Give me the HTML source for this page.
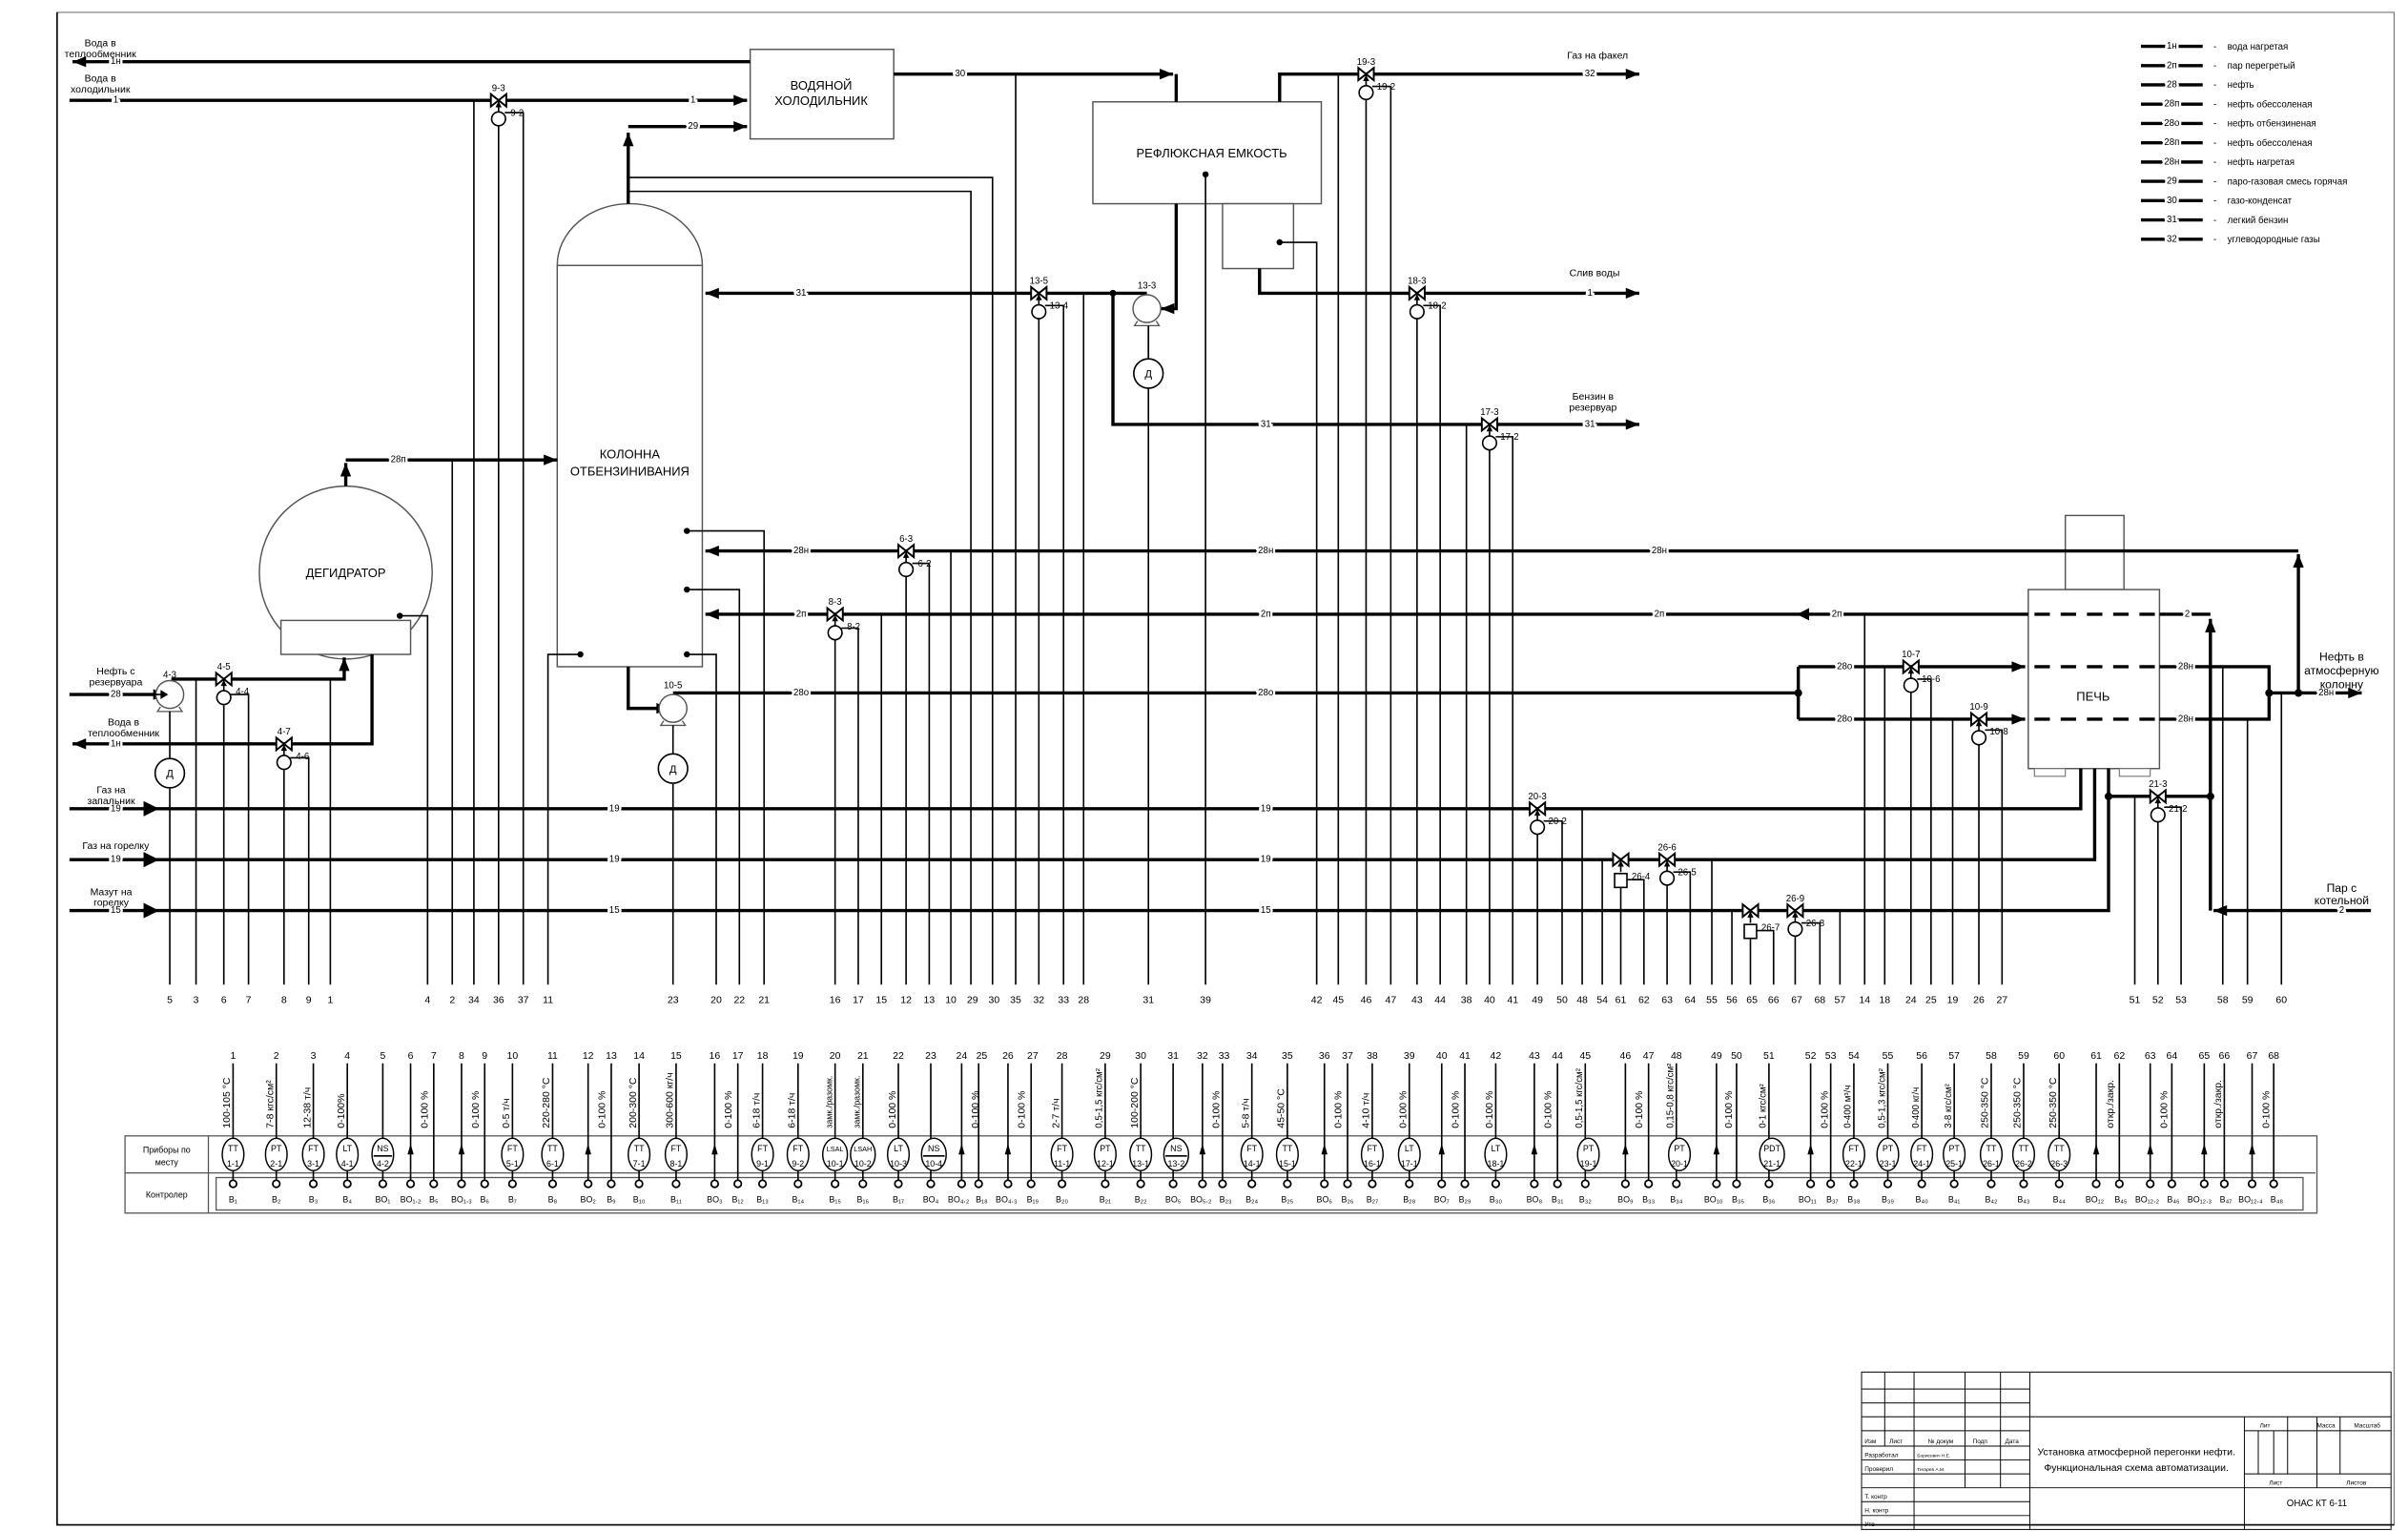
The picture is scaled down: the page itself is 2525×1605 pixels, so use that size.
<!DOCTYPE html>
<html><head><meta charset="utf-8"><style>
html,body{margin:0;padding:0;background:#fff}
svg{display:block}
text{font-family:"Liberation Sans",Arial,sans-serif;fill:#000}
.k{fill:none;stroke:#000;stroke-width:2.1}
.t{fill:none;stroke:#000;stroke-width:1}
.g{fill:none;stroke:#777;stroke-width:.7}
.l{font-size:6px;text-anchor:middle;paint-order:stroke;stroke:#fff;stroke-width:3px;dominant-baseline:central}
.s{font-size:6px;text-anchor:middle}
.m{font-size:6.5px;text-anchor:middle}
.n{font-size:6.5px;text-anchor:middle}
.i{font-size:5.5px;text-anchor:middle}
.r{font-size:6.5px}
.b{font-size:5.5px;text-anchor:middle}
.tb{font-size:4px;font-family:"Liberation Serif",serif}
</style></head><body>
<svg width="2525" height="1605" viewBox="0 0 1560 992" preserveAspectRatio="none" xmlns="http://www.w3.org/2000/svg">
<defs>
<marker id="a" viewBox="0 0 10 8" refX="10" refY="4" markerWidth="10" markerHeight="7" markerUnits="userSpaceOnUse" orient="auto"><path d="M0,0L10,4L0,8z"/></marker>
<g id="V"><path d="M-5,-4L5,4L5,-4L-5,4Z" fill="#fff" stroke="#000" stroke-width="1.2"/><path d="M0,1V8" stroke="#000" stroke-width="1"/><path d="M-2,4.5L0,0.5L2,4.5Z"/></g>
<g id="C"><circle r="4.5" fill="#fff" stroke="#000" stroke-width="1"/></g>
<g id="P"><path d="M-6,8L-8,11H8L6,8" fill="#fff" stroke="#555" stroke-width=".8"/><circle r="9" fill="#fff" stroke="#555" stroke-width=".9"/></g>
<g id="D"><circle r="9.5" fill="#fff" stroke="#000" stroke-width="1"/><text y="2.5" class="s" style="font-size:7px">Д</text></g>
</defs>

<!-- frame -->
<path class="g" d="M37,8H1551V988H37Z"/>
<path class="t" d="M37,8V988H1551"/>

<!-- equipment -->
<rect x="486" y="32" width="93" height="58" fill="#fff" stroke="#555" stroke-width=".9"/>
<text x="532" y="58" class="m" style="font-size:8px">ВОДЯНОЙ</text>
<text x="532" y="68" class="m" style="font-size:8px">ХОЛОДИЛЬНИК</text>
<rect x="708" y="66" width="148" height="66" fill="#fff" stroke="#555" stroke-width=".9"/>
<text x="785" y="102" class="m" style="font-size:8px">РЕФЛЮКСНАЯ ЕМКОСТЬ</text>
<rect x="792" y="132" width="46" height="42" fill="#fff" stroke="#555" stroke-width=".9"/>
<path d="M361,172A47,40 0 0 1 455,172" fill="#fff" stroke="#555" stroke-width=".9"/>
<rect x="361" y="172" width="94" height="260" fill="#fff" stroke="#555" stroke-width=".9"/>
<text x="408" y="297" class="m" style="font-size:8px">КОЛОННА</text>
<text x="408" y="308" class="m" style="font-size:8px">ОТБЕНЗИНИВАНИЯ</text>
<circle cx="224" cy="371" r="56" fill="#fff" stroke="#555" stroke-width=".9"/>
<rect x="182" y="402" width="84" height="22" fill="#fff" stroke="#555" stroke-width=".9"/>
<text x="224" y="374" class="m" style="font-size:8px">ДЕГИДРАТОР</text>
<rect x="1338" y="334" width="38" height="48" fill="#fff" stroke="#555" stroke-width=".9"/>
<rect x="1314" y="382" width="85" height="116" fill="#fff" stroke="#555" stroke-width=".9"/>
<rect x="1318" y="498" width="20" height="5" fill="#fff" stroke="#777" stroke-width=".7"/>
<rect x="1373" y="498" width="20" height="5" fill="#fff" stroke="#777" stroke-width=".7"/>
<text x="1356" y="454" class="m" style="font-size:8px">ПЕЧЬ</text>

<!-- thin process verticals -->
<path class="t" d="M110,511V638M127,440V638M145,457V638M149,450H161V638M184,499V638M188,491H200V638M214,440V638M259,399H277V638M293,298V638M307,65V638M323,81V638M327,73H339V638M376,424H355V638M436,508V638M445,424H464V638M445,382H479V638M445,344H495V638M541,415V638M545,407H556V638M571,398V638M587,373V638M591,365H602V638M616,357V638M407,124H629V638M407,115H643V638M658,48V638M673,206V638M677,198H689V638M702,190V638M744,208V638M781,113V638M829,157H853V638M867,48V638M885,64V638M889,56H901V638M918,206V638M922,198H933V638M950,275V638M965,291V638M969,283H980V638M996,540V638M1000,532H1012V638M1025,524V638M1038,557V638M1050,575V638M1054,570H1065V638M1080,573V638M1084,565H1095V638M1109,557V638M1122,590V638M1134,608V638M1138,603H1149V638M1163,606V638M1167,598H1179V638M1192,590V638M1208,398V638M1221,432V638M1238,448V638M1242,440H1251V638M1265,466V638M1282,481V638M1286,473H1297V638M1383,516V638M1398,531V638M1402,523H1413V638M1440,432V638M1456,466V638M1478,449V638"/>
<circle cx="259" cy="399" r="2" /><circle cx="376" cy="424" r="2"/><circle cx="445" cy="424" r="2"/><circle cx="445" cy="382" r="2"/><circle cx="445" cy="344" r="2"/><circle cx="781" cy="113" r="2"/><circle cx="829" cy="157" r="2"/>

<!-- thick process lines -->
<path class="k" d="M486,40H47" marker-end="url(#a)"/>
<path class="k" d="M45,65H484" marker-end="url(#a)"/>
<path class="k" d="M407,132V86" marker-end="url(#a)"/>
<path class="k" d="M407,82H484" marker-end="url(#a)"/>
<path class="k" d="M579,48H760" marker-end="url(#a)"/>
<path class="k" d="M762,48V66"/>
<path class="k" d="M829,66V48H1062" marker-end="url(#a)"/>
<path class="k" d="M762,132V200H752" marker-end="url(#a)"/>
<path class="k" d="M743,190H457" marker-end="url(#a)"/>
<path class="k" d="M721,190V275H1062" marker-end="url(#a)"/>
<path class="k" d="M816,174V190H1062" marker-end="url(#a)"/>
<circle cx="721" cy="190" r="2.2"/>
<path class="k" d="M224,315V300" marker-end="url(#a)"/>
<path class="k" d="M224,298H361" marker-end="url(#a)"/>
<path class="k" d="M45,450H108" marker-end="url(#a)"/>
<path class="k" d="M111,440H223V426" marker-end="url(#a)"/>
<path class="k" d="M241,424V482H47" marker-end="url(#a)"/>
<path class="k" d="M407,432V459H434" marker-end="url(#a)"/>
<path class="k" d="M436,449H1165"/>
<path class="k" d="M1165,432V466"/>
<circle cx="1165" cy="449" r="2.5"/>
<path class="k" d="M1165,432H1312" marker-end="url(#a)"/>
<path class="k" d="M1165,466H1312" marker-end="url(#a)"/>
<path class="k" d="M1489,357H457" marker-end="url(#a)"/>
<path class="k" d="M1399,432H1470V466H1399"/>
<path class="k" d="M1470,449H1530" marker-end="url(#a)"/>
<path class="k" d="M1489,449V359" marker-end="url(#a)"/>
<circle cx="1470" cy="449" r="2.5"/><circle cx="1489" cy="449" r="2.5"/>
<path class="k" d="M1432,590V401" marker-end="url(#a)"/>
<path class="k" d="M1432,398H1399"/>
<path class="k" d="M1314,398H457" marker-end="url(#a)"/>
<path d="M1164,398l8,-4v8z"/>
<path class="k" d="M1318,398H1396M1318,432H1396M1318,466H1396" stroke-dasharray="10 7"/>
<path class="k" d="M1536,590H1434" marker-end="url(#a)"/>
<path class="k" d="M1366,516H1432"/>
<circle cx="1366" cy="516" r="2.5"/><circle cx="1432" cy="516" r="2.5"/>
<path class="k" d="M45,524H1348V498"/>
<path class="k" d="M45,557H1357V498"/>
<path class="k" d="M45,590H1366V498"/>
<path d="M93,519l10,5l-10,5zM93,552l10,5l-10,5zM93,585l10,5l-10,5z"/>

<!-- pumps / motors -->
<use href="#P" x="110" y="450"/><path d="M98,450H108" class="t"/><path d="M104,447l5,3l-5,3z"/>
<use href="#P" x="436" y="459"/>
<use href="#P" x="743" y="200"/>
<use href="#D" x="110" y="501"/><use href="#D" x="436" y="498"/><use href="#D" x="744" y="242"/>
<path class="t" d="M110,461V491M436,470V488M744,211V232"/>
<text x="110" y="439" class="s">4-3</text><text x="436" y="446" class="s">10-5</text><text x="743" y="187" class="s">13-3</text>

<!-- valves -->
<use href="#V" x="323" y="65"/><use href="#C" x="323" y="77"/><text x="323" y="59" class="s">9-3</text><text x="335" y="75" class="s">9-2</text>
<use href="#V" x="145" y="440"/><use href="#C" x="145" y="452"/><text x="145" y="434" class="s">4-5</text><text x="157" y="450" class="s">4-4</text>
<use href="#V" x="184" y="482"/><use href="#C" x="184" y="494"/><text x="184" y="476" class="s">4-7</text><text x="196" y="492" class="s">4-6</text>
<use href="#V" x="587" y="357"/><use href="#C" x="587" y="369"/><text x="587" y="351" class="s">6-3</text><text x="599" y="367" class="s">6-2</text>
<use href="#V" x="541" y="398"/><use href="#C" x="541" y="410"/><text x="541" y="392" class="s">8-3</text><text x="553" y="408" class="s">8-2</text>
<use href="#V" x="673" y="190"/><use href="#C" x="673" y="202"/><text x="673" y="184" class="s">13-5</text><text x="686" y="200" class="s">13-4</text>
<use href="#V" x="885" y="48"/><use href="#C" x="885" y="60"/><text x="885" y="42" class="s">19-3</text><text x="898" y="58" class="s">19-2</text>
<use href="#V" x="918" y="190"/><use href="#C" x="918" y="202"/><text x="918" y="184" class="s">18-3</text><text x="931" y="200" class="s">18-2</text>
<use href="#V" x="965" y="275"/><use href="#C" x="965" y="287"/><text x="965" y="269" class="s">17-3</text><text x="978" y="285" class="s">17-2</text>
<use href="#V" x="996" y="524"/><use href="#C" x="996" y="536"/><text x="996" y="518" class="s">20-3</text><text x="1009" y="534" class="s">20-2</text>
<use href="#V" x="1050" y="557"/><rect x="1046" y="566" width="8" height="9" fill="#fff" stroke="#000" stroke-width="1"/><text x="1063" y="570" class="s">26-4</text>
<use href="#V" x="1080" y="557"/><use href="#C" x="1080" y="569"/><text x="1080" y="551" class="s">26-6</text><text x="1093" y="567" class="s">26-5</text>
<use href="#V" x="1134" y="590"/><rect x="1130" y="599" width="8" height="9" fill="#fff" stroke="#000" stroke-width="1"/><text x="1147" y="603" class="s">26-7</text>
<use href="#V" x="1163" y="590"/><use href="#C" x="1163" y="602"/><text x="1163" y="584" class="s">26-9</text><text x="1176" y="600" class="s">26-8</text>
<use href="#V" x="1238" y="432"/><use href="#C" x="1238" y="444"/><text x="1238" y="426" class="s">10-7</text><text x="1251" y="442" class="s">10-6</text>
<use href="#V" x="1282" y="466"/><use href="#C" x="1282" y="478"/><text x="1282" y="460" class="s">10-9</text><text x="1295" y="476" class="s">10-8</text>
<use href="#V" x="1398" y="516"/><use href="#C" x="1398" y="528"/><text x="1398" y="510" class="s">21-3</text><text x="1411" y="526" class="s">21-2</text>

<!-- line labels -->
<text x="75" y="40" class="l">1н</text><text x="75" y="65" class="l">1</text><text x="449" y="65" class="l">1</text><text x="449" y="82" class="l">29</text>
<text x="622" y="48" class="l">30</text><text x="1030" y="48" class="l">32</text><text x="519" y="190" class="l">31</text><text x="1030" y="190" class="l">1</text>
<text x="820" y="275" class="l">31</text><text x="1030" y="275" class="l">31</text><text x="258" y="298" class="l">28п</text>
<text x="75" y="450" class="l">28</text><text x="75" y="482" class="l">1н</text>
<text x="519" y="357" class="l">28н</text><text x="820" y="357" class="l">28н</text><text x="1075" y="357" class="l">28н</text>
<text x="519" y="398" class="l">2п</text><text x="820" y="398" class="l">2п</text><text x="1075" y="398" class="l">2п</text><text x="1190" y="398" class="l">2п</text><text x="1417" y="398" class="l">2</text>
<text x="519" y="449" class="l">28о</text><text x="820" y="449" class="l">28о</text><text x="1195" y="432" class="l">28о</text><text x="1195" y="466" class="l">28о</text>
<text x="1416" y="432" class="l">28н</text><text x="1416" y="466" class="l">28н</text><text x="1507" y="449" class="l">28н</text>
<text x="75" y="524" class="l">19</text><text x="398" y="524" class="l">19</text><text x="820" y="524" class="l">19</text>
<text x="75" y="557" class="l">19</text><text x="398" y="557" class="l">19</text><text x="820" y="557" class="l">19</text>
<text x="75" y="590" class="l">15</text><text x="398" y="590" class="l">15</text><text x="820" y="590" class="l">15</text><text x="1517" y="590" class="l">2</text>

<!-- side texts -->
<g class="s" style="font-size:6.5px">
<text x="65" y="30">Вода в</text><text x="65" y="37">теплообменник</text>
<text x="65" y="53">Вода в</text><text x="65" y="60">холодильник</text>
<text x="75" y="437">Нефть с</text><text x="75" y="444">резервуара</text>
<text x="80" y="470">Вода в</text><text x="80" y="477">теплообменник</text>
<text x="72" y="514">Газ на</text><text x="72" y="521">запальник</text>
<text x="75" y="550">Газ на горелку</text>
<text x="72" y="580">Мазут на</text><text x="72" y="587">горелку</text>
<text x="1035" y="38">Газ на факел</text>
<text x="1033" y="179">Слив воды</text>
<text x="1032" y="259">Бензин в</text><text x="1032" y="266">резервуар</text>
<text x="1517" y="428" style="font-size:7.5px">Нефть в</text><text x="1517" y="437" style="font-size:7.5px">атмосферную</text><text x="1517" y="446" style="font-size:7.5px">колонну</text>
<text x="1517" y="578" style="font-size:7.5px">Пар с</text><text x="1517" y="586" style="font-size:7.5px">котельной</text>
</g>

<!-- legend -->
<path class="k" d="M1387,30H1427M1387,42.5H1427M1387,55H1427M1387,67.5H1427M1387,80H1427M1387,92.5H1427M1387,105H1427M1387,117.5H1427M1387,130H1427M1387,142.5H1427M1387,155H1427"/>
<g class="l"><text x="1407" y="30">1н</text><text x="1407" y="42.5">2п</text><text x="1407" y="55">28</text><text x="1407" y="67.5">28п</text><text x="1407" y="80">28о</text><text x="1407" y="92.5">28п</text><text x="1407" y="105">28н</text><text x="1407" y="117.5">29</text><text x="1407" y="130">30</text><text x="1407" y="142.5">31</text><text x="1407" y="155">32</text></g>
<g style="font-size:6px">
<text x="1434" y="32">-</text><text x="1434" y="44.5">-</text><text x="1434" y="57">-</text><text x="1434" y="69.5">-</text><text x="1434" y="82">-</text><text x="1434" y="94.5">-</text><text x="1434" y="107">-</text><text x="1434" y="119.5">-</text><text x="1434" y="132">-</text><text x="1434" y="144.5">-</text><text x="1434" y="157">-</text>
<text x="1443" y="32">вода нагретая</text><text x="1443" y="44.5">пар перегретый</text><text x="1443" y="57">нефть</text><text x="1443" y="69.5">нефть обессоленая</text><text x="1443" y="82">нефть отбензиненая</text><text x="1443" y="94.5">нефть обессоленая</text><text x="1443" y="107">нефть нагретая</text><text x="1443" y="119.5">паро-газовая смесь горячая</text><text x="1443" y="132">газо-конденсат</text><text x="1443" y="144.5">легкий бензин</text><text x="1443" y="157">углеводородные газы</text>
</g>

<!-- bottom process numbers -->
<g class="n">
<text x="110" y="650">5</text><text x="127" y="650">3</text><text x="145" y="650">6</text><text x="161" y="650">7</text><text x="184" y="650">8</text><text x="200" y="650">9</text><text x="214" y="650">1</text>
<text x="277" y="650">4</text><text x="293" y="650">2</text><text x="307" y="650">34</text><text x="323" y="650">36</text><text x="339" y="650">37</text><text x="355" y="650">11</text>
<text x="436" y="650">23</text><text x="464" y="650">20</text><text x="479" y="650">22</text><text x="495" y="650">21</text>
<text x="541" y="650">16</text><text x="556" y="650">17</text><text x="571" y="650">15</text><text x="587" y="650">12</text><text x="602" y="650">13</text><text x="616" y="650">10</text><text x="630" y="650">29</text><text x="644" y="650">30</text><text x="658" y="650">35</text><text x="673" y="650">32</text><text x="689" y="650">33</text><text x="702" y="650">28</text><text x="744" y="650">31</text><text x="781" y="650">39</text>
<text x="853" y="650">42</text><text x="867" y="650">45</text><text x="885" y="650">46</text><text x="901" y="650">47</text><text x="918" y="650">43</text><text x="933" y="650">44</text><text x="950" y="650">38</text><text x="965" y="650">40</text><text x="980" y="650">41</text><text x="996" y="650">49</text><text x="1012" y="650">50</text><text x="1025" y="650">48</text><text x="1038" y="650">54</text><text x="1050" y="650">61</text><text x="1065" y="650">62</text><text x="1080" y="650">63</text><text x="1095" y="650">64</text><text x="1109" y="650">55</text><text x="1122" y="650">56</text><text x="1135" y="650">65</text><text x="1149" y="650">66</text><text x="1164" y="650">67</text><text x="1179" y="650">68</text><text x="1192" y="650">57</text><text x="1208" y="650">14</text><text x="1221" y="650">18</text><text x="1238" y="650">24</text><text x="1251" y="650">25</text><text x="1265" y="650">19</text><text x="1282" y="650">26</text><text x="1297" y="650">27</text>
<text x="1383" y="650">51</text><text x="1398" y="650">52</text><text x="1413" y="650">53</text><text x="1440" y="650">58</text><text x="1456" y="650">59</text><text x="1478" y="650">60</text>
</g>

<!-- instrument table -->
<rect x="81" y="736" width="1420" height="50" fill="none" stroke="#555" stroke-width=".8"/>
<path d="M81,760H1500M135,736V786" stroke="#555" stroke-width=".8"/>
<rect x="140" y="763" width="1352" height="21" fill="none" stroke="#555" stroke-width=".8"/>
<text x="108" y="747" class="b">Приборы по</text><text x="108" y="755" class="b">месту</text><text x="108" y="776" class="b">Контролер</text>
<path class="t" d="M151,689V765M179,689V765M203,689V765M225,689V765M248,689V765M266,689V765M281,689V765M299,689V765M314,689V765M332,689V765M358,689V765M381,689V765M396,689V765M414,689V765M438,689V765M463,689V765M478,689V765M494,689V765M517,689V765M541,689V765M559,689V765M582,689V765M603,689V765M623,689V765M634,689V765M653,689V765M668,689V765M688,689V765M716,689V765M739,689V765M760,689V765M779,689V765M792,689V765M811,689V765M834,689V765M858,689V765M873,689V765M889,689V765M913,689V765M934,689V765M949,689V765M969,689V765M994,689V765M1009,689V765M1027,689V765M1053,689V765M1068,689V765M1086,689V765M1112,689V765M1125,689V765M1146,689V765M1173,689V765M1186,689V765M1201,689V765M1223,689V765M1245,689V765M1266,689V765M1290,689V765M1311,689V765M1334,689V765M1358,689V765M1373,689V765M1393,689V765M1407,689V765M1428,689V765M1441,689V765M1459,689V765M1473,689V765"/>
<g class="n">
<text x="151" y="686">1</text><text x="179" y="686">2</text><text x="203" y="686">3</text><text x="225" y="686">4</text><text x="248" y="686">5</text><text x="266" y="686">6</text><text x="281" y="686">7</text><text x="299" y="686">8</text><text x="314" y="686">9</text><text x="332" y="686">10</text><text x="358" y="686">11</text><text x="381" y="686">12</text><text x="396" y="686">13</text><text x="414" y="686">14</text><text x="438" y="686">15</text><text x="463" y="686">16</text><text x="478" y="686">17</text><text x="494" y="686">18</text><text x="517" y="686">19</text><text x="541" y="686">20</text><text x="559" y="686">21</text><text x="582" y="686">22</text><text x="603" y="686">23</text><text x="623" y="686">24</text><text x="636" y="686">25</text><text x="653" y="686">26</text><text x="669" y="686">27</text><text x="688" y="686">28</text><text x="716" y="686">29</text><text x="739" y="686">30</text><text x="760" y="686">31</text><text x="779" y="686">32</text><text x="793" y="686">33</text><text x="811" y="686">34</text><text x="834" y="686">35</text><text x="858" y="686">36</text><text x="873" y="686">37</text><text x="889" y="686">38</text><text x="913" y="686">39</text><text x="934" y="686">40</text><text x="949" y="686">41</text><text x="969" y="686">42</text><text x="994" y="686">43</text><text x="1009" y="686">44</text><text x="1027" y="686">45</text><text x="1053" y="686">46</text><text x="1068" y="686">47</text><text x="1086" y="686">48</text><text x="1112" y="686">49</text><text x="1125" y="686">50</text><text x="1146" y="686">51</text><text x="1173" y="686">52</text><text x="1186" y="686">53</text><text x="1201" y="686">54</text><text x="1223" y="686">55</text><text x="1245" y="686">56</text><text x="1266" y="686">57</text><text x="1290" y="686">58</text><text x="1311" y="686">59</text><text x="1334" y="686">60</text><text x="1358" y="686">61</text><text x="1373" y="686">62</text><text x="1393" y="686">63</text><text x="1407" y="686">64</text><text x="1428" y="686">65</text><text x="1441" y="686">66</text><text x="1459" y="686">67</text><text x="1473" y="686">68</text>
</g>
<!-- rotated ranges -->
<g class="r">
<text transform="translate(149,731) rotate(-90)">100-105 °C</text>
<text transform="translate(177,731) rotate(-90)">7-8 кгс/см²</text>
<text transform="translate(201,731) rotate(-90)">12-38 т/ч</text>
<text transform="translate(223,731) rotate(-90)">0-100%</text>
<text transform="translate(277,731) rotate(-90)">0-100 %</text>
<text transform="translate(310,731) rotate(-90)">0-100 %</text>
<text transform="translate(330,731) rotate(-90)">0-5 т/ч</text>
<text transform="translate(356,731) rotate(-90)">220-280 °C</text>
<text transform="translate(392,731) rotate(-90)">0-100 %</text>
<text transform="translate(412,731) rotate(-90)">200-300 °C</text>
<text transform="translate(436,731) rotate(-90)">300-600 кг/ч</text>
<text transform="translate(474,731) rotate(-90)">0-100 %</text>
<text transform="translate(492,731) rotate(-90)">6-18 т/ч</text>
<text transform="translate(515,731) rotate(-90)">6-18 т/ч</text>
<text transform="translate(539,731) rotate(-90)" style="font-size:5.5px">замк./разомк.</text>
<text transform="translate(557,731) rotate(-90)" style="font-size:5.5px">замк./разомк.</text>
<text transform="translate(580,731) rotate(-90)">0-100 %</text>
<text transform="translate(634,731) rotate(-90)">0-100 %</text>
<text transform="translate(664,731) rotate(-90)">0-100 %</text>
<text transform="translate(686,731) rotate(-90)">2-7 т/ч</text>
<text transform="translate(714,731) rotate(-90)" style="font-size:6px">0,5-1,5 кгс/см²</text>
<text transform="translate(737,731) rotate(-90)">100-200 °C</text>
<text transform="translate(790,731) rotate(-90)">0-100 %</text>
<text transform="translate(809,731) rotate(-90)">5-8 т/ч</text>
<text transform="translate(832,731) rotate(-90)">45-50 °C</text>
<text transform="translate(869,731) rotate(-90)">0-100 %</text>
<text transform="translate(887,731) rotate(-90)">4-10 т/ч</text>
<text transform="translate(911,731) rotate(-90)">0-100 %</text>
<text transform="translate(945,731) rotate(-90)">0-100 %</text>
<text transform="translate(967,731) rotate(-90)">0-100 %</text>
<text transform="translate(1005,731) rotate(-90)">0-100 %</text>
<text transform="translate(1025,731) rotate(-90)" style="font-size:6px">0,5-1,5 кгс/см²</text>
<text transform="translate(1064,731) rotate(-90)">0-100 %</text>
<text transform="translate(1084,731) rotate(-90)" style="font-size:6px">0,15-0,8 кгс/см²</text>
<text transform="translate(1122,731) rotate(-90)">0-100 %</text>
<text transform="translate(1144,731) rotate(-90)" style="font-size:6px">0-1 кгс/см²</text>
<text transform="translate(1184,731) rotate(-90)">0-100 %</text>
<text transform="translate(1199,731) rotate(-90)" style="font-size:6px">0-400 м³/ч</text>
<text transform="translate(1221,731) rotate(-90)" style="font-size:6px">0,5-1,3 кгс/см²</text>
<text transform="translate(1243,731) rotate(-90)" style="font-size:6px">0-400 кг/ч</text>
<text transform="translate(1264,731) rotate(-90)" style="font-size:6px">3-8 кгс/см²</text>
<text transform="translate(1288,731) rotate(-90)">250-350 °C</text>
<text transform="translate(1309,731) rotate(-90)">250-350 °C</text>
<text transform="translate(1332,731) rotate(-90)">250-350 °C</text>
<text transform="translate(1369,731) rotate(-90)">откр./закр.</text>
<text transform="translate(1404,731) rotate(-90)">0-100 %</text>
<text transform="translate(1439,731) rotate(-90)">откр./закр.</text>
<text transform="translate(1470,731) rotate(-90)">0-100 %</text>
</g>
<!-- arrows in table -->
<path d="M264,748l2,-7l2,7zM297,748l2,-7l2,7zM379,748l2,-7l2,7zM461,748l2,-7l2,7zM621,748l2,-7l2,7zM651,748l2,-7l2,7zM777,748l2,-7l2,7zM856,748l2,-7l2,7zM932,748l2,-7l2,7zM992,748l2,-7l2,7zM1051,748l2,-7l2,7zM1110,748l2,-7l2,7zM1171,748l2,-7l2,7zM1356,748l2,-7l2,7zM1391,748l2,-7l2,7zM1426,748l2,-7l2,7zM1457,748l2,-7l2,7z"/>
<!-- instrument ellipses -->
<g fill="#fff" stroke="#000" stroke-width=".9">
<ellipse cx="151" cy="748" rx="7" ry="10.5"/><ellipse cx="179" cy="748" rx="7" ry="10.5"/><ellipse cx="203" cy="748" rx="7" ry="10.5"/><ellipse cx="225" cy="748" rx="7" ry="10.5"/><ellipse cx="248" cy="748" rx="7" ry="10.5"/><ellipse cx="332" cy="748" rx="7" ry="10.5"/><ellipse cx="358" cy="748" rx="7" ry="10.5"/><ellipse cx="414" cy="748" rx="7" ry="10.5"/><ellipse cx="438" cy="748" rx="7" ry="10.5"/><ellipse cx="494" cy="748" rx="7" ry="10.5"/><ellipse cx="517" cy="748" rx="7" ry="10.5"/><ellipse cx="541" cy="748" rx="8" ry="10.5"/><ellipse cx="559" cy="748" rx="8" ry="10.5"/><ellipse cx="582" cy="748" rx="7" ry="10.5"/><ellipse cx="605" cy="748" rx="8" ry="10.5"/><ellipse cx="688" cy="748" rx="7" ry="10.5"/><ellipse cx="716" cy="748" rx="7" ry="10.5"/><ellipse cx="739" cy="748" rx="7" ry="10.5"/><ellipse cx="762" cy="748" rx="8" ry="10.5"/><ellipse cx="811" cy="748" rx="7" ry="10.5"/><ellipse cx="834" cy="748" rx="7" ry="10.5"/><ellipse cx="889" cy="748" rx="7" ry="10.5"/><ellipse cx="913" cy="748" rx="7" ry="10.5"/><ellipse cx="969" cy="748" rx="7" ry="10.5"/><ellipse cx="1029" cy="748" rx="7" ry="10.5"/><ellipse cx="1088" cy="748" rx="7" ry="10.5"/><ellipse cx="1148" cy="748" rx="8" ry="10.5"/><ellipse cx="1201" cy="748" rx="7" ry="10.5"/><ellipse cx="1223" cy="748" rx="7" ry="10.5"/><ellipse cx="1245" cy="748" rx="7" ry="10.5"/><ellipse cx="1266" cy="748" rx="7" ry="10.5"/><ellipse cx="1290" cy="748" rx="7" ry="10.5"/><ellipse cx="1311" cy="748" rx="7" ry="10.5"/><ellipse cx="1334" cy="748" rx="7" ry="10.5"/>
</g>
<path class="t" d="M242,749H254M598,749H612M755,749H769"/>
<g class="i">
<text x="151" y="746">TT</text><text x="151" y="756">1-1</text><text x="179" y="746">PT</text><text x="179" y="756">2-1</text><text x="203" y="746">FT</text><text x="203" y="756">3-1</text><text x="225" y="746">LT</text><text x="225" y="756">4-1</text><text x="248" y="746">NS</text><text x="248" y="756">4-2</text>
<text x="332" y="746">FT</text><text x="332" y="756">5-1</text><text x="358" y="746">TT</text><text x="358" y="756">6-1</text><text x="414" y="746">TT</text><text x="414" y="756">7-1</text><text x="438" y="746">FT</text><text x="438" y="756">8-1</text>
<text x="494" y="746">FT</text><text x="494" y="756">9-1</text><text x="517" y="746">FT</text><text x="517" y="756">9-2</text><text x="541" y="746" style="font-size:4.5px">LSAL</text><text x="541" y="756">10-1</text><text x="559" y="746" style="font-size:4.5px">LSAH</text><text x="559" y="756">10-2</text><text x="582" y="746">LT</text><text x="582" y="756">10-3</text><text x="605" y="746">NS</text><text x="605" y="756">10-4</text>
<text x="688" y="746">FT</text><text x="688" y="756">11-1</text><text x="716" y="746">PT</text><text x="716" y="756">12-1</text><text x="739" y="746">TT</text><text x="739" y="756">13-1</text><text x="762" y="746">NS</text><text x="762" y="756">13-2</text>
<text x="811" y="746">FT</text><text x="811" y="756">14-1</text><text x="834" y="746">TT</text><text x="834" y="756">15-1</text><text x="889" y="746">FT</text><text x="889" y="756">16-1</text><text x="913" y="746">LT</text><text x="913" y="756">17-1</text><text x="969" y="746">LT</text><text x="969" y="756">18-1</text>
<text x="1029" y="746">PT</text><text x="1029" y="756">19-1</text><text x="1088" y="746">PT</text><text x="1088" y="756">20-1</text><text x="1148" y="746">PDT</text><text x="1148" y="756">21-1</text>
<text x="1201" y="746">FT</text><text x="1201" y="756">22-1</text><text x="1223" y="746">PT</text><text x="1223" y="756">23-1</text><text x="1245" y="746">FT</text><text x="1245" y="756">24-1</text><text x="1266" y="746">PT</text><text x="1266" y="756">25-1</text><text x="1290" y="746">TT</text><text x="1290" y="756">26-1</text><text x="1311" y="746">TT</text><text x="1311" y="756">26-2</text><text x="1334" y="746">TT</text><text x="1334" y="756">26-3</text>
</g>
<!-- small controller circles -->
<g fill="#fff" stroke="#000" stroke-width="1.1">
<circle cx="151" cy="767" r="2.3"/><circle cx="179" cy="767" r="2.3"/><circle cx="203" cy="767" r="2.3"/><circle cx="225" cy="767" r="2.3"/><circle cx="248" cy="767" r="2.3"/><circle cx="266" cy="767" r="2.3"/><circle cx="281" cy="767" r="2.3"/><circle cx="299" cy="767" r="2.3"/><circle cx="314" cy="767" r="2.3"/><circle cx="332" cy="767" r="2.3"/><circle cx="358" cy="767" r="2.3"/><circle cx="381" cy="767" r="2.3"/><circle cx="396" cy="767" r="2.3"/><circle cx="414" cy="767" r="2.3"/><circle cx="438" cy="767" r="2.3"/><circle cx="463" cy="767" r="2.3"/><circle cx="478" cy="767" r="2.3"/><circle cx="494" cy="767" r="2.3"/><circle cx="517" cy="767" r="2.3"/><circle cx="541" cy="767" r="2.3"/><circle cx="559" cy="767" r="2.3"/><circle cx="582" cy="767" r="2.3"/><circle cx="603" cy="767" r="2.3"/><circle cx="623" cy="767" r="2.3"/><circle cx="634" cy="767" r="2.3"/><circle cx="653" cy="767" r="2.3"/><circle cx="668" cy="767" r="2.3"/><circle cx="688" cy="767" r="2.3"/><circle cx="716" cy="767" r="2.3"/><circle cx="739" cy="767" r="2.3"/><circle cx="760" cy="767" r="2.3"/><circle cx="779" cy="767" r="2.3"/><circle cx="792" cy="767" r="2.3"/><circle cx="811" cy="767" r="2.3"/><circle cx="834" cy="767" r="2.3"/><circle cx="858" cy="767" r="2.3"/><circle cx="873" cy="767" r="2.3"/><circle cx="889" cy="767" r="2.3"/><circle cx="913" cy="767" r="2.3"/><circle cx="934" cy="767" r="2.3"/><circle cx="949" cy="767" r="2.3"/><circle cx="969" cy="767" r="2.3"/><circle cx="994" cy="767" r="2.3"/><circle cx="1009" cy="767" r="2.3"/><circle cx="1027" cy="767" r="2.3"/><circle cx="1053" cy="767" r="2.3"/><circle cx="1068" cy="767" r="2.3"/><circle cx="1086" cy="767" r="2.3"/><circle cx="1112" cy="767" r="2.3"/><circle cx="1125" cy="767" r="2.3"/><circle cx="1146" cy="767" r="2.3"/><circle cx="1173" cy="767" r="2.3"/><circle cx="1186" cy="767" r="2.3"/><circle cx="1201" cy="767" r="2.3"/><circle cx="1223" cy="767" r="2.3"/><circle cx="1245" cy="767" r="2.3"/><circle cx="1266" cy="767" r="2.3"/><circle cx="1290" cy="767" r="2.3"/><circle cx="1311" cy="767" r="2.3"/><circle cx="1334" cy="767" r="2.3"/><circle cx="1358" cy="767" r="2.3"/><circle cx="1373" cy="767" r="2.3"/><circle cx="1393" cy="767" r="2.3"/><circle cx="1407" cy="767" r="2.3"/><circle cx="1428" cy="767" r="2.3"/><circle cx="1441" cy="767" r="2.3"/><circle cx="1459" cy="767" r="2.3"/><circle cx="1473" cy="767" r="2.3"/>
</g>
<g class="b">
<text x="151" y="779">B₁</text><text x="179" y="779">B₂</text><text x="203" y="779">B₃</text><text x="225" y="779">B₄</text><text x="248" y="779">BO₁</text><text x="266" y="779">BO₁.₂</text><text x="281" y="779">B₅</text><text x="299" y="779">BO₁.₃</text><text x="314" y="779">B₆</text><text x="332" y="779">B₇</text><text x="358" y="779">B₈</text><text x="381" y="779">BO₂</text><text x="396" y="779">B₉</text><text x="414" y="779">B₁₀</text><text x="438" y="779">B₁₁</text><text x="463" y="779">BO₃</text><text x="478" y="779">B₁₂</text><text x="494" y="779">B₁₃</text><text x="517" y="779">B₁₄</text><text x="541" y="779">B₁₅</text><text x="559" y="779">B₁₆</text><text x="582" y="779">B₁₇</text><text x="603" y="779">BO₄</text><text x="621" y="779">BO₄.₂</text><text x="636" y="779">B₁₈</text><text x="652" y="779">BO₄.₃</text><text x="669" y="779">B₁₉</text><text x="688" y="779">B₂₀</text><text x="716" y="779">B₂₁</text><text x="739" y="779">B₂₂</text><text x="760" y="779">BO₅</text><text x="778" y="779">BO₅.₂</text><text x="794" y="779">B₂₃</text><text x="811" y="779">B₂₄</text><text x="834" y="779">B₂₅</text><text x="858" y="779">BO₆</text><text x="873" y="779">B₂₆</text><text x="889" y="779">B₂₇</text><text x="913" y="779">B₂₈</text><text x="934" y="779">BO₇</text><text x="949" y="779">B₂₉</text><text x="969" y="779">B₃₀</text><text x="994" y="779">BO₈</text><text x="1009" y="779">B₃₁</text><text x="1027" y="779">B₃₂</text><text x="1053" y="779">BO₉</text><text x="1068" y="779">B₃₃</text><text x="1086" y="779">B₃₄</text><text x="1110" y="779">BO₁₀</text><text x="1126" y="779">B₃₅</text><text x="1146" y="779">B₃₆</text><text x="1171" y="779">BO₁₁</text><text x="1187" y="779">B₃₇</text><text x="1201" y="779">B₃₈</text><text x="1223" y="779">B₃₉</text><text x="1245" y="779">B₄₀</text><text x="1266" y="779">B₄₁</text><text x="1290" y="779">B₄₂</text><text x="1311" y="779">B₄₃</text><text x="1334" y="779">B₄₄</text><text x="1357" y="779">BO₁₂</text><text x="1374" y="779">B₄₅</text><text x="1391" y="779">BO₁₂.₂</text><text x="1408" y="779">B₄₆</text><text x="1425" y="779">BO₁₂.₃</text><text x="1442" y="779">B₄₇</text><text x="1458" y="779">BO₁₂.₄</text><text x="1475" y="779">B₄₈</text>
</g>

<!-- title block -->
<g stroke="#000" stroke-width=".6" fill="none">
<path d="M1206,889H1549V991H1206Z"/>
<path d="M1206,900H1315M1206,909H1315M1206,918H1549M1206,927H1315M1206,937H1315M1206,946H1315M1206,955H1315M1206,964H1549M1206,973H1315M1206,982H1315"/>
<path d="M1221,889V937M1240,889V991M1273,889V964M1296,889V964M1315,889V991"/>
<path d="M1454,918V991M1454,927H1549M1454,955H1549M1463,927V955M1473,927V955M1482,918V955M1501,918V964M1516,918V955"/>
</g>
<g class="tb">
<text x="1208" y="935">Изм</text><text x="1224" y="935">Лист</text><text x="1249" y="935">№ докум</text><text x="1278" y="935">Подп</text><text x="1299" y="935">Дата</text>
<text x="1208" y="944">Разработал</text><text x="1242" y="944" style="font-size:3px">Борисевич Н.Е.</text>
<text x="1208" y="953">Проверил</text><text x="1242" y="953" style="font-size:3px">Тигарев А.М.</text>
<text x="1208" y="971">Т. контр</text><text x="1208" y="980">Н. контр</text><text x="1208" y="989">Утв</text>
<text x="1464" y="925">Лит</text><text x="1501" y="925">Масса</text><text x="1525" y="925">Масштаб</text>
<text x="1470" y="962">Лист</text><text x="1520" y="962">Листов</text>
</g>
<text x="1384" y="943" class="s" style="font-size:6.5px">Установка атмосферной перегонки нефти.</text>
<text x="1384" y="953" class="s" style="font-size:6.5px">Функциональная схема автоматизации.</text>
<text x="1501" y="976" class="s" style="font-size:6px">ОНАС КТ 6-11</text>
</svg>
</body></html>
